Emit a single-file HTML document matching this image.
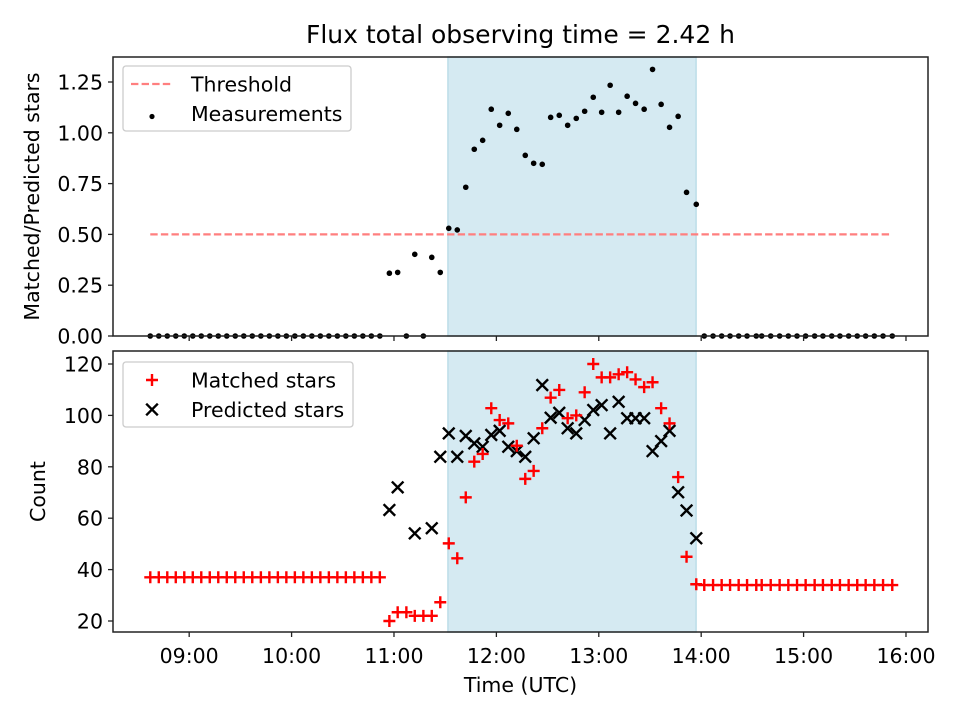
<!DOCTYPE html>
<html><head><meta charset="utf-8"><style>
body{margin:0;background:#fff}
svg text{font-family:"DejaVu Sans","Liberation Sans",sans-serif;fill:#000}
</style></head><body>
<svg id="chart" width="960" height="720" viewBox="0 0 960 720" xmlns="http://www.w3.org/2000/svg"></svg>
<script>
// ---- data ----
const times = [8.620,8.703,8.786,8.869,8.952,9.035,9.118,9.201,9.284,9.367,9.450,9.533,9.616,9.700,9.783,9.866,9.949,10.032,10.115,10.198,10.281,10.364,10.447,10.530,10.613,10.696,10.779,10.862,
10.955,11.036,11.121,11.203,11.287,11.369,11.452,11.535,11.618,11.701,11.784,11.866,11.950,12.032,12.116,12.199,12.282,12.364,12.448,12.530,12.614,12.696,12.780,12.862,12.946,13.028,13.111,13.194,13.277,13.359,13.443,13.525,13.609,13.691,13.775,13.857,13.952,
14.030,14.116,14.200,14.282,14.366,14.448,14.538,14.591,14.679,14.766,14.851,14.936,15.020,15.108,15.189,15.275,15.355,15.440,15.524,15.606,15.691,15.776,15.866];
const matched = [37,37,37,37,37,37,37,37,37,37,37,37,37,37,37,37,37,37,37,37,37,37,37,37,37,37,37,37,
20,23.4,23.4,22,22,22,27.3,50.2,44.4,68.1,82,85,102.8,98.2,96.9,88.2,75.3,78.4,95,106.9,109.9,98.9,100,109,120,114.8,114.8,116,116.8,114,111,112.9,102.8,96.9,76,45,34.3,
34,34,34,34,34,34,34,34,34,34,34,34,34,34,34,34,34,34,34,34,34,34,34];
const predicted = [null,null,null,null,null,null,null,null,null,null,null,null,null,null,null,null,null,null,null,null,null,null,null,null,null,null,null,null,
63.2,72,null,54.1,null,56.1,83.9,93,83.9,92,89.1,87.8,92.4,94,87.8,86.1,83.9,91.1,111.8,99.1,101,95,93,98.2,102.1,104,93,105.3,98.9,98.9,98.9,86.1,90,94,70.1,63,52.2,
null,null,null,null,null,null,null,null,null,null,null,null,null,null,null,null,null,null,null,null,null,null,null];
const ratio = [0,0,0,0,0,0,0,0,0,0,0,0,0,0,0,0,0,0,0,0,0,0,0,0,0,0,0,0,
0.309,0.313,0,0.402,0,0.387,0.313,0.530,0.522,0.732,0.919,0.963,1.116,1.037,1.096,1.017,0.889,0.85,0.845,1.076,1.086,1.037,1.071,1.106,1.175,1.101,1.234,1.101,1.18,1.145,1.116,1.312,1.14,1.027,1.081,0.707,0.648,
0,0,0,0,0,0,0,0,0,0,0,0,0,0,0,0,0,0,0,0,0,0,0];
const threshold = 0.5;
const spanStart = 11.527, spanEnd = 13.950;
const xTicks = [9,10,11,12,13,14,15,16];
const xTickLabels = ["09:00","10:00","11:00","12:00","13:00","14:00","15:00","16:00"];
const topTicks = [0,0.25,0.5,0.75,1.0,1.25];
const topTickLabels = ["0.00","0.25","0.50","0.75","1.00","1.25"];
const botTicks = [20,40,60,80,100,120];

// ---- layout ----
const L=113,R=928,T1=57,B1=336,T2=351,B2=632;
const xMin=8.256,xMax=16.215;
const x=t=>L+(t-xMin)/(xMax-xMin)*(R-L);
const y1=v=>336-v*203.2;
const y2=v=>621-(v-20)*2.57;
const FS=20.5;
const svg=document.getElementById('chart');
const NS='http://www.w3.org/2000/svg';
function mk(tag,attrs,parent){const e=document.createElementNS(NS,tag);for(const k in attrs)e.setAttribute(k,attrs[k]);(parent||svg).appendChild(e);return e;}

function panel(top,bot,name){
  const g=mk('g',{});
  
  
  const s=mk('rect',{x:x(spanStart),y:top,width:x(spanEnd)-x(spanStart),height:bot-top,fill:'#d5eaf2',stroke:'#bcdde8','stroke-width':1.5},g);
  
  
  return g;
}
const gTop=panel(T1,B1,'top-panel');
const gBot=panel(T2,B2,'bottom-panel');

const th=mk('line',{x1:x(times[0]),x2:x(times[times.length-1]),y1:y1(threshold),y2:y1(threshold),stroke:'#ff7f7f','stroke-width':2.2,'stroke-dasharray':'7.4,3.2'},gTop);



times.forEach((t,i)=>{
  const c=mk('circle',{cx:x(t),cy:y1(ratio[i]),r:2.8,fill:'#000'},gTop);
  
  
});
times.forEach((t,i)=>{
  if(predicted[i]!=null){
    const px=x(t),py=y2(predicted[i]),d=5.8;
    const p=mk('path',{d:`M${px-d},${py-d}L${px+d},${py+d}M${px-d},${py+d}L${px+d},${py-d}`,stroke:'#000','stroke-width':2.4,fill:'none'},gBot);
    
    
  }
});
times.forEach((t,i)=>{
  if(matched[i]!=null){
    const px=x(t),py=y2(matched[i]),d=6;
    const p=mk('path',{d:`M${px-d},${py}L${px+d},${py}M${px},${py-d}L${px},${py+d}`,stroke:'#ff0000','stroke-width':2.4,fill:'none'},gBot);
    
    
  }
});

[[T1,B1],[T2,B2]].forEach(([a,b])=>{
  const f=mk('rect',{x:L,y:a,width:R-L,height:b-a,fill:'none',stroke:'#222','stroke-width':1.5});
  
  
});
xTicks.forEach((t,i)=>{
  [B1,B2].forEach(b=>{mk('line',{x1:x(t),x2:x(t),y1:b,y2:b+5,stroke:'#222','stroke-width':1.3});});
  const tx=mk('text',{x:x(t),y:B2+31,'font-size':FS,'text-anchor':'middle'});
  tx.textContent=xTickLabels[i];
  
  
});
topTicks.forEach((v,i)=>{
  mk('line',{x1:L-5,x2:L,y1:y1(v),y2:y1(v),stroke:'#222','stroke-width':1.3});
  const tx=mk('text',{x:L-10,y:y1(v)+7.5,'font-size':FS,'text-anchor':'end'});
  tx.textContent=topTickLabels[i];
  
  
});
botTicks.forEach(v=>{
  mk('line',{x1:L-5,x2:L,y1:y2(v),y2:y2(v),stroke:'#222','stroke-width':1.3});
  const tx=mk('text',{x:L-10,y:y2(v)+7.5,'font-size':FS,'text-anchor':'end'});
  tx.textContent=String(v);
  
  
});
function txt(s,a,name){const e=mk('text',a);e.textContent=s;return e;}
txt('Flux total observing time = 2.42 h',{x:520.5,y:43,'font-size':25,'text-anchor':'middle'},'chart-title');
txt('Time (UTC)',{x:520.5,y:692,'font-size':FS,'text-anchor':'middle'},'x-axis-title');
txt('Matched/Predicted stars',{x:0,y:0,'font-size':FS,'text-anchor':'middle',transform:`translate(39,${(T1+B1)/2}) rotate(-90)`},'top-y-axis-title');
txt('Count',{x:0,y:0,'font-size':FS,'text-anchor':'middle',transform:`translate(45,${(T2+B2)/2}) rotate(-90)`},'bottom-y-axis-title');

function legend(yTop,w,items,name){
  const g=mk('g',{});
  
  
  mk('rect',{x:123,y:yTop,width:w,height:65,rx:3,fill:'#fff','fill-opacity':0.8,stroke:'#ccc','stroke-width':1.3},g);
  items.forEach((it,i)=>{
    const cy=yTop+18+i*29.5;
    it.draw(g,152,cy);
    const t=mk('text',{x:191,y:cy+7.5,'font-size':FS},g);
    t.textContent=it.label;
    
    
  });
}
legend(66,228,[
  {label:'Threshold',draw:(g,cx,cy)=>mk('line',{x1:131,x2:173,y1:cy,y2:cy,stroke:'#ff7f7f','stroke-width':2.2,'stroke-dasharray':'7.4,3.2'},g)},
  {label:'Measurements',draw:(g,cx,cy)=>mk('circle',{cx:cx,cy:cy+3,r:2.6,fill:'#000'},g)}
],'top-legend');
legend(362,230,[
  {label:'Matched stars',draw:(g,cx,cy)=>mk('path',{d:`M${cx-6},${cy}L${cx+6},${cy}M${cx},${cy-6}L${cx},${cy+6}`,stroke:'#f00','stroke-width':2.4},g)},
  {label:'Predicted stars',draw:(g,cx,cy)=>mk('path',{d:`M${cx-5.8},${cy-5.8}L${cx+5.8},${cy+5.8}M${cx-5.8},${cy+5.8}L${cx+5.8},${cy-5.8}`,stroke:'#000','stroke-width':2.4},g)}
],'bottom-legend');
</script>
</body></html>
